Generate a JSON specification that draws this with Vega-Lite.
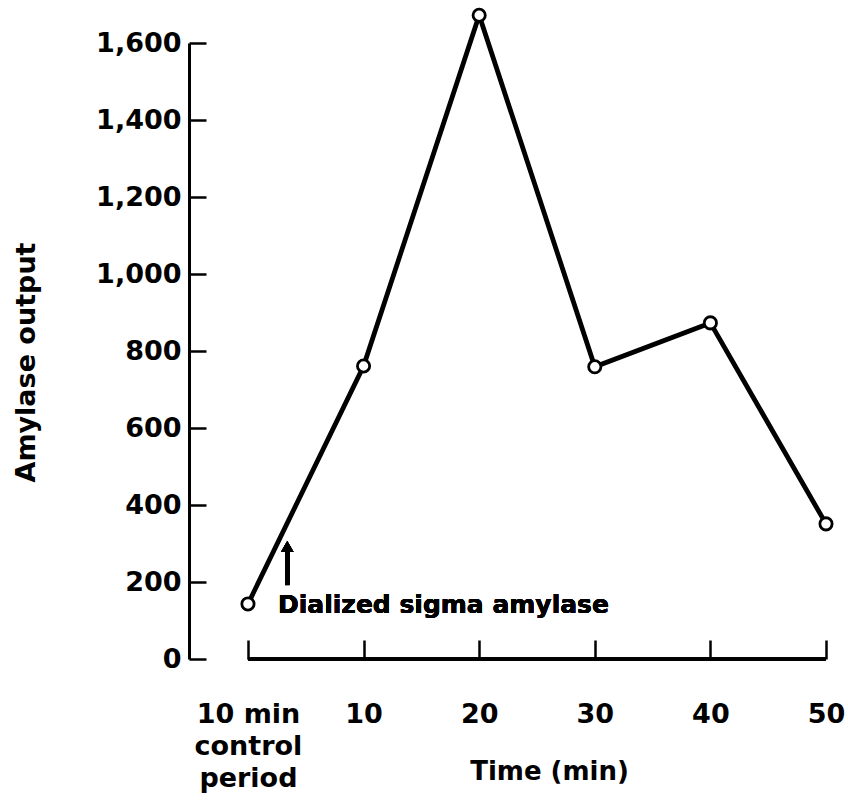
{
  "$schema": "https://vega.github.io/schema/vega-lite/v6.json",
  "width": 637,
  "height": 616,
  "autosize": {"type": "none"},
  "padding": {"left": 189, "top": 43, "right": 22, "bottom": 142},
  "background": "white",
  "config": {
    "view": {"stroke": null},
    "font": "DejaVu Sans"
  },
  "data": {
    "values": [
      {"time": 0, "amylase": 143},
      {"time": 10, "amylase": 761},
      {"time": 20, "amylase": 1672},
      {"time": 30, "amylase": 759},
      {"time": 40, "amylase": 873},
      {"time": 50, "amylase": 351}
    ]
  },
  "layer": [
    {
      "mark": {"type": "rule", "color": "black", "strokeWidth": 3},
      "encoding": {
        "x": {"datum": 0, "type": "quantitative", "scale": {"domain": [-5.1, 50], "nice": false, "zero": false}},
        "x2": {"datum": 50},
        "y": {"datum": 0, "type": "quantitative"}
      }
    },
    {
      "mark": {"type": "line", "color": "black", "strokeWidth": 4.8},
      "encoding": {
        "x": {
          "field": "time",
          "type": "quantitative",
          "scale": {"domain": [-5.1, 50], "nice": false, "zero": false},
          "axis": {
            "values": [0, 10, 20, 30, 40, 50],
            "domain": false,
            "grid": false,
            "tickSize": -19,
            "tickWidth": 2.5,
            "tickColor": "black",
            "labelFlush": false,
            "labelOverlap": false,
            "labelFont": "DejaVu Sans",
            "labelFontWeight": "bold",
            "labelFontSize": 27,
            "labelColor": "black",
            "labelPadding": 61,
            "labelLineHeight": 32,
            "labelExpr": "datum.value == 0 ? ['10 min', 'control', 'period'] : datum.label",
            "title": "Time (min)",
            "titleFont": "DejaVu Sans",
            "titleFontWeight": "bold",
            "titleFontSize": 26,
            "titleColor": "black",
            "titleX": 360,
            "titleY": 112,
            "titleBaseline": "middle",
            "titleAnchor": "middle"
          }
        },
        "y": {
          "field": "amylase",
          "type": "quantitative",
          "scale": {"domain": [0, 1600], "nice": false},
          "axis": {
            "values": [0, 200, 400, 600, 800, 1000, 1200, 1400, 1600],
            "format": ",d",
            "grid": false,
            "domainColor": "black",
            "domainWidth": 3,
            "tickSize": -17,
            "tickWidth": 2.5,
            "tickColor": "black",
            "labelFlush": false,
            "labelOverlap": false,
            "labelFont": "DejaVu Sans",
            "labelFontWeight": "bold",
            "labelFontSize": 27,
            "labelColor": "black",
            "labelPadding": 25,
            "title": "Amylase output",
            "titleFont": "DejaVu Sans",
            "titleFontWeight": "bold",
            "titleFontSize": 27,
            "titleColor": "black",
            "titleX": -163,
            "titleY": 319,
            "titleAngle": -90,
            "titleBaseline": "middle",
            "titleAnchor": "middle"
          }
        }
      }
    },
    {
      "mark": {"type": "point", "shape": "circle", "filled": true, "fill": "white", "stroke": "black", "strokeWidth": 2.8, "size": 150, "opacity": 1},
      "encoding": {
        "x": {"field": "time", "type": "quantitative"},
        "y": {"field": "amylase", "type": "quantitative"}
      }
    },
    {
      "mark": {"type": "rule", "color": "black", "strokeWidth": 4.5},
      "encoding": {
        "x": {"datum": 3.4, "type": "quantitative"},
        "y": {"datum": 192, "type": "quantitative"},
        "y2": {"datum": 285}
      }
    },
    {
      "mark": {"type": "point", "shape": "triangle-up", "filled": true, "color": "black", "size": 160, "opacity": 1},
      "encoding": {
        "x": {"datum": 3.4, "type": "quantitative"},
        "y": {"datum": 292, "type": "quantitative"}
      }
    },
    {
      "mark": {"type": "text", "text": "Dialized sigma amylase", "align": "left", "baseline": "alphabetic", "font": "DejaVu Sans", "fontWeight": "bold", "fontSize": 25, "color": "black"},
      "encoding": {
        "x": {"datum": 2.6, "type": "quantitative"},
        "y": {"datum": 119, "type": "quantitative"}
      }
    }
  ]
}
